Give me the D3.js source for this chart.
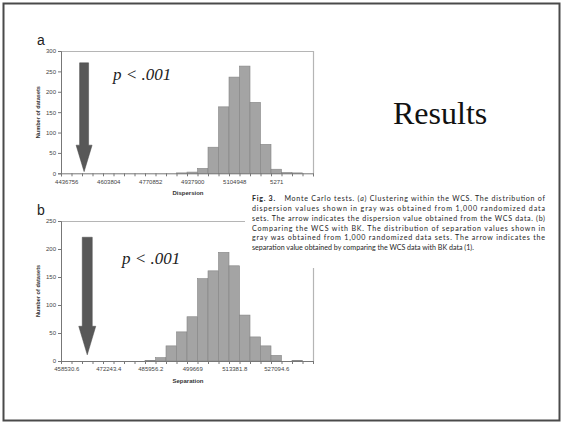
<!DOCTYPE html>
<html>
<head>
<meta charset="utf-8">
<script src="https://cdn.jsdelivr.net/npm/d3@7"></script>
<style>
  body { margin: 0; background: #fff; }
  svg { display: block; }
</style>
</head>
<body>
<div id="chart"></div>
<script>
// histogram counts per bin (24 bins each)
const countsA = [0, 0, 0, 0, 0, 0, 0, 0, 0, 0, 0, 1, 3, 12, 64, 163, 236, 263, 174, 71, 10, 2, 1, 0];
const countsB = [0, 0, 0, 0, 0, 0, 0, 0, 1, 6, 27, 52, 79, 147, 161, 194, 170, 82, 43, 27, 10, 0, 1, 0];

// category labels shown under every 4th bin
const labelBinsA = [0, 4, 8, 12, 16, 20];
const labelsA = ['4436756', '4603804', '4770852', '4937900', '5104948', '5271'];
const labelBinsB = [0, 4, 8, 12, 16, 20];
const labelsB = ['458530.6', '472243.4', '485956.2', '499669', '513381.8', '527094.6'];

const yTicksA = [0, 50, 100, 150, 200, 250, 300];
const yTicksB = [0, 50, 100, 150, 200, 250];

// observed value arrows (bin position, top / neck / tip in counts)
const arrowA = { bin: 2.2, top: 271, neck: 69, tip: 4 };
const arrowB = { bin: 2.5, top: 221, neck: 62, tip: 11 };

const captionLines = [
  'dispersion values shown in gray was obtained from 1,000 randomized data',
  'sets. The arrow indicates the dispersion value obtained from the WCS data. (b)',
  'Comparing the WCS with BK. The distribution of separation values shown in',
  'gray was obtained from 1,000 randomized data sets. The arrow indicates the',
  'separation value obtained by comparing the WCS data with BK data (1).'
];

const width = 563;
const height = 424;

const svg = d3.select('#chart')
  .append('svg')
  .attr('width', width)
  .attr('height', height);

// slide frame
svg.append('rect')
  .attr('x', 3.5).attr('y', 3.5)
  .attr('width', 556).attr('height', 417)
  .attr('fill', 'none')
  .attr('stroke', '#4a4a4a')
  .attr('stroke-width', 2);

function histogram(opts) {
  const g = svg.append('g');
  const x = d3.scaleLinear().domain([0, opts.counts.length]).range([61, 313]);
  const y = d3.scaleLinear().domain([0, opts.yMax]).range([opts.bottom, opts.top]);

  // plot border (top + right)
  g.append('path')
    .attr('d', `M${x(0)},${y(opts.yMax) + 0.5}H${x.range()[1] + 0.5}V${y(0)}`)
    .attr('fill', 'none')
    .attr('stroke', '#b5b5b5')
    .attr('stroke-width', 1.2);

  g.append('g')
    .selectAll('rect')
    .data(opts.counts)
    .join('rect')
    .attr('x', (d, i) => x(i))
    .attr('width', (d, i) => x(i + 1) - x(i))
    .attr('y', d => y(d))
    .attr('height', d => y(0) - y(d))
    .attr('fill', '#a4a4a4')
    .attr('stroke', '#848484')
    .attr('stroke-width', 0.6);

  // x axis: ticks between categories
  const xa = g.append('g')
    .attr('transform', `translate(0,${y(0)})`)
    .call(d3.axisBottom(x).tickValues(d3.range(0, opts.counts.length + 1)).tickSize(3).tickFormat(''));
  xa.select('.domain').attr('stroke', '#777');
  xa.selectAll('.tick line').attr('stroke', '#777');

  const xl = g.append('g')
    .attr('transform', `translate(0,${y(0)})`)
    .call(d3.axisBottom(x)
      .tickValues(opts.labelBins.map(b => b + 0.5))
      .tickSize(0)
      .tickPadding(6)
      .tickFormat((d, i) => opts.labels[i]));
  xl.select('.domain').remove();
  xl.selectAll('text')
    .attr('font-family', 'Liberation Sans, Arial, sans-serif')
    .attr('font-size', '6px')
    .attr('fill', '#444');

  const ya = g.append('g')
    .attr('transform', `translate(${x(0)},0)`)
    .call(d3.axisLeft(y).tickValues(opts.yTicks).tickSize(3).tickPadding(2));
  ya.select('.domain').attr('stroke', '#777');
  ya.selectAll('.tick line').attr('stroke', '#777');
  ya.selectAll('text')
    .attr('font-family', 'Liberation Sans, Arial, sans-serif')
    .attr('font-size', '6px')
    .attr('fill', '#444');

  g.append('text')
    .attr('transform', `translate(40,${(y(0) + y(opts.yMax)) / 2}) rotate(-90)`)
    .attr('text-anchor', 'middle')
    .attr('font-family', 'Liberation Sans, Arial, sans-serif')
    .attr('font-weight', 'bold')
    .attr('font-size', '5.6px')
    .attr('fill', '#333')
    .text('Number of datasets');

  g.append('text')
    .attr('x', 188)
    .attr('y', y(0) + 22)
    .attr('text-anchor', 'middle')
    .attr('font-family', 'Liberation Sans, Arial, sans-serif')
    .attr('font-weight', 'bold')
    .attr('font-size', '6px')
    .attr('fill', '#333')
    .text(opts.title);

  // arrow
  const a = opts.arrow;
  const cx = x(a.bin);
  const sw = opts.shaft / 2, hw = opts.head / 2;
  g.append('path')
    .attr('d', `M${cx - sw},${y(a.top)}H${cx + sw}V${y(a.neck)}H${cx + hw}L${cx},${y(a.tip)}L${cx - hw},${y(a.neck)}H${cx - sw}Z`)
    .attr('fill', '#585858')
    .attr('stroke', '#4a4a4a')
    .attr('stroke-width', 0.5);

  g.append('text')
    .attr('x', opts.pX)
    .attr('y', opts.pY)
    .attr('font-family', 'Liberation Serif, Times New Roman, serif')
    .attr('font-style', 'italic')
    .attr('font-size', '17px')
    .attr('fill', '#222')
    .text('p < .001');

  g.append('text')
    .attr('x', 37)
    .attr('y', opts.letterY)
    .attr('font-family', 'Liberation Sans, Arial, sans-serif')
    .attr('font-size', '14px')
    .attr('fill', '#222')
    .text(opts.letter);

  return g;
}

histogram({
  counts: countsA, labelBins: labelBinsA, labels: labelsA, yTicks: yTicksA,
  yMax: 300, top: 51, bottom: 173.3, title: 'Dispersion', arrow: arrowA,
  shaft: 9, head: 16, pX: 113, pY: 79.5, letter: 'a', letterY: 45
});

histogram({
  counts: countsB, labelBins: labelBinsB, labels: labelsB, yTicks: yTicksB,
  yMax: 250, top: 221, bottom: 361, title: 'Separation', arrow: arrowB,
  shaft: 10, head: 17, pX: 122, pY: 263.5, letter: 'b', letterY: 215
});

// caption block (white box over the chart b border)
svg.append('rect')
  .attr('x', 245).attr('y', 188)
  .attr('width', 308).attr('height', 80)
  .attr('fill', '#fff');

const cap = svg.append('g')
  .attr('font-family', 'Lato, Noto Sans, sans-serif')
  .attr('font-size', '7.1px')
  .attr('fill', '#262626');

const first = cap.append('text')
  .attr('x', 252).attr('y', 200.8)
  .attr('textLength', 293).attr('lengthAdjust', 'spacing');
first.append('tspan').attr('font-weight', 'bold').text('Fig. 3.');
first.append('tspan').text('\u2003 Monte Carlo tests. (');
first.append('tspan').attr('font-style', 'italic').text('a');
first.append('tspan').text(') Clustering within the WCS. The distribution of');

cap.selectAll('text.line')
  .data(captionLines)
  .join('text')
  .attr('class', 'line')
  .attr('x', 252)
  .attr('y', (d, i) => 210.7 + i * 9.9)
  .attr('textLength', (d, i) => i < captionLines.length - 1 ? 293 : null)
  .attr('lengthAdjust', 'spacing')
  .text(d => d);

svg.append('text')
  .attr('x', 393)
  .attr('y', 124)
  .attr('font-family', 'Liberation Serif, Times New Roman, serif')
  .attr('font-size', '32px')
  .attr('fill', '#111')
  .text('Results');
</script>
</body>
</html>
